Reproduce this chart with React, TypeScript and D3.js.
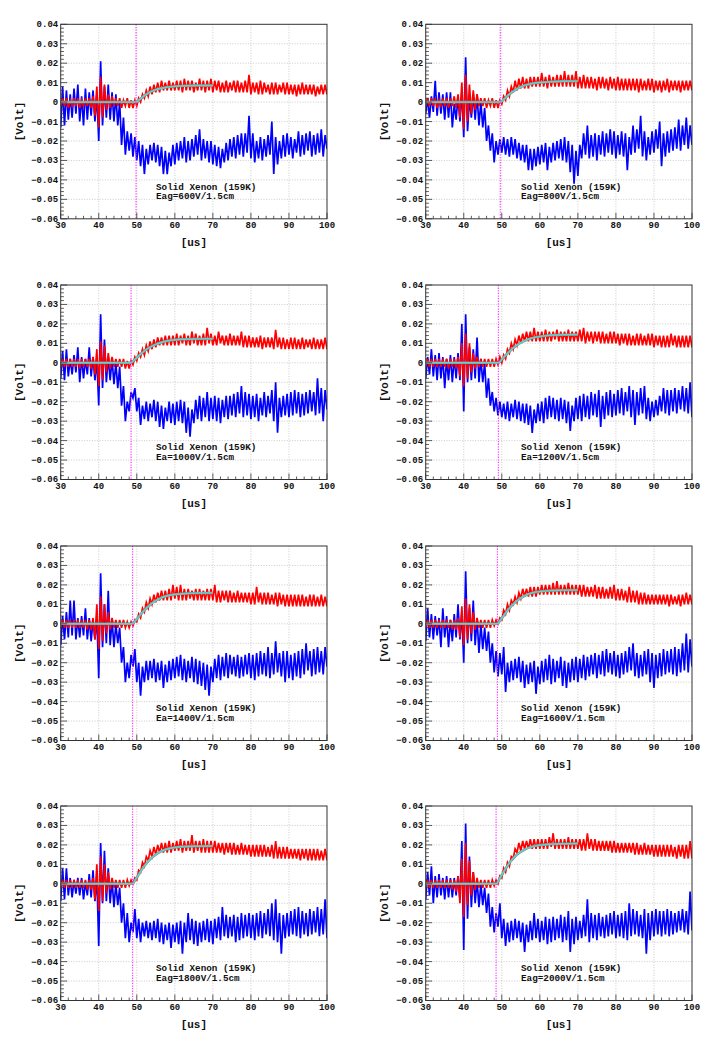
import React from "react";
import * as d3 from "d3";

// ---------- axes ----------
const xMin = 30;
const xMax = 100;
const yMin = -60; // mV
const yMax = 40; // mV
const xTicks = [30, 40, 50, 60, 70, 80, 90, 100];
const yTicks = [-60, -50, -40, -30, -20, -10, 0, 10, 20, 30, 40];
const yTickLabels = ["\u22120.06", "\u22120.05", "\u22120.04", "\u22120.03", "\u22120.02", "\u22120.01", "0", "0.01", "0.02", "0.03", "0.04"];
const binStart = 30; // 1 us bins, min/max per bin (mV)

const titleLine = "Solid Xenon (159K)";
const fieldLabels = [
  "Eag=600V/1.5cm", "Eag=800V/1.5cm", "Ea=1000V/1.5cm", "Ea=1200V/1.5cm",
  "Ea=1400V/1.5cm", "Eag=1600V/1.5cm", "Eag=1800V/1.5cm", "Eag=2000V/1.5cm",
];
const triggerTimes = [49.8, 49.6, 48.5, 49.1, 48.9, 48.85, 48.9, 48.5];

// ---------- 600 V ----------
const blueLo600 = [-13,-12,-9,-8,-6,-10,-12,-9,-7,-10, -20,-12,-8,-9,-10,-12,-22,-27,-25,-28, -30,-33,-37,-32,-30,-31,-33,-37,-37,-33, -32,-30,-29,-31,-30,-28,-27,-30,-29,-31, -32,-33,-34,-31,-30,-28,-29,-27,-28,-26, -29,-31,-29,-30,-28,-27,-37,-32,-29,-28, -27,-29,-26,-28,-27,-25,-28,-27,-26,-28, -24];
const blueHi600 = [8,6,4,7,9,3,7,5,6,4, 21,8,9,5,4,0,-8,-15,-16,-18, -20,-22,-24,-22,-21,-22,-23,-25,-26,-22, -21,-20,-18,-20,-19,-17,-14,-19,-20,-20, -22,-23,-24,-21,-19,-18,-17,-16,-16,-7, -16,-20,-18,-19,-17,-10,-18,-20,-17,-16, -18,-19,-15,-17,-16,-15,-17,-16,-14,-17, -15];
const redLo600 = [-2,-2,-3,-2,-2,-3,-2,-2,-3,-7, -13,-8,-4,-3,-2,-2,-3,-2,-3,-3, -2,0,2,3,4,5,5,6,6,6, 6,6,5,6,6,5,6,6,5,6, 5,6,5,5,5,6,5,5,5,5, 4,5,4,4,5,4,4,4,5,4, 4,4,3,4,4,4,4,3,4,4, 4];
const redHi600 = [2,2,1,2,2,1,2,2,3,8, 13,9,4,3,2,2,1,2,1,1, 2,4,6,8,9,10,11,10,11,10, 11,11,12,11,11,10,12,11,11,12, 11,11,10,11,10,11,11,10,11,14, 10,10,11,10,9,10,10,9,10,10, 9,9,9,10,9,9,9,8,9,9, 8];
const fit600 = [[30,0],[49.8,0],[50.5,0.9],[51,1.7],[52,3.3],[53,4.6],[54,5.6],[55,6.4],[56,7],[58,7.7],[60,8.1],[63,8.4],[66,8.5],[70,8.5]];

// ---------- 800 V ----------
const blueLo800 = [-6,-8,-5,-7,-6,-9,-8,-13,-9,-10, -18,-15,-8,-9,-12,-13,-20,-25,-31,-27, -26,-27,-28,-27,-29,-30,-31,-35,-35,-33, -32,-31,-35,-31,-30,-29,-30,-31,-36,-42, -38,-29,-27,-29,-28,-30,-27,-28,-26,-27, -29,-27,-28,-35,-27,-26,-24,-28,-30,-27, -26,-24,-33,-28,-26,-25,-24,-25,-22,-24, -22];
const blueHi800 = [2,3,11,5,4,5,5,-1,3,6, 23,2,4,4,0,-3,-12,-16,-20,-19, -18,-19,-18,-19,-21,-22,-22,-24,-24,-23, -22,-21,-23,-21,-20,-19,-18,-20,-22,-25, -22,-16,-12,-17,-16,-17,-15,-16,-14,-15, -17,-15,-16,-18,-12,-14,-7,-15,-18,-15, -14,-10,-16,-15,-14,-13,-9,-12,-8,-12, -16];
const redLo800 = [-2,-2,-2,-3,-2,-2,-3,-2,-3,-8, -14,-10,-6,-4,-2,-2,-3,-2,-3,-3, -1,1,3,5,6,7,7,7,8,8, 8,8,7,8,8,8,8,8,8,8, 7,7,7,7,7,6,7,7,6,7, 6,6,6,6,6,6,5,6,6,6, 5,6,5,6,5,6,6,5,6,6, 6];
const redHi800 = [2,2,2,1,2,2,2,3,4,10, 14,9,6,4,2,2,1,2,1,1, 3,6,8,11,12,13,12,13,13,13, 15,13,14,13,14,14,16,14,14,16, 13,14,13,13,12,13,13,12,13,12, 13,12,12,12,12,12,12,11,12,12, 11,11,11,12,11,11,11,11,11,11, 10];
const fit800 = [[30,0],[49.6,0],[50.3,1],[51,2.2],[52,4],[53,5.5],[54,6.8],[55,7.8],[56,8.6],[58,9.6],[60,10.1],[63,10.5],[66,10.7],[70,10.8]];

// ---------- 1000 V ----------
const blueLo1000 = [-8,-9,-7,-6,-5,-10,-8,-6,-7,-9, -22,-13,-10,-9,-11,-13,-22,-30,-25,-18, -25,-32,-29,-30,-28,-30,-33,-34,-30,-31, -32,-30,-31,-36,-38,-31,-29,-30,-28,-30, -29,-30,-31,-28,-29,-27,-28,-26,-28,-27, -29,-28,-30,-27,-28,-26,-30,-36,-28,-27, -28,-27,-26,-28,-27,-26,-25,-27,-26,-30, -24];
const blueHi1000 = [6,7,2,4,8,3,2,8,3,2, 25,12,3,2,0,-2,-12,-20,-15,-13, -18,-22,-20,-21,-19,-20,-22,-23,-20,-21, -20,-19,-20,-23,-24,-19,-17,-18,-15,-18, -17,-18,-19,-17,-17,-16,-15,-12,-15,-16, -17,-16,-18,-15,-17,-14,-10,-18,-17,-16, -15,-14,-15,-16,-15,-14,-15,-8,-13,-14, -12];
const redLo1000 = [-2,-2,-2,-2,-2,-3,-2,-2,-3,-6, -12,-9,-5,-3,-2,-2,-2,-3,-3,-1, 1,3,4,6,7,8,9,9,9,9, 9,9,10,9,9,10,9,9,9,10, 9,9,10,9,9,9,9,9,8,8, 8,8,8,7,8,8,7,8,7,7, 7,7,7,7,7,8,7,7,7,7, 7];
const redHi1000 = [2,2,2,2,2,2,2,2,3,7, 11,9,5,3,2,2,2,1,1,3, 5,7,9,11,12,13,13,14,14,14, 15,14,15,14,16,15,14,15,18,15, 14,16,14,14,15,14,14,16,14,14, 13,13,14,13,13,13,17,13,13,12, 13,13,12,13,12,12,13,12,12,13, 12];
const fit1000 = [[30,0],[48.5,0],[49.2,1.2],[50,2.6],[51,4.5],[52,6.1],[53,7.5],[54,8.6],[55,9.5],[57,10.8],[59,11.6],[62,12.1],[66,12.3],[70,12.4]];

// ---------- 1200 V ----------
const blueLo1200 = [-8,-6,-7,-9,-8,-13,-9,-10,-8,-9, -25,-10,-9,-8,-10,-10,-18,-22,-25,-27, -28,-29,-30,-28,-29,-30,-31,-32,-36,-31, -30,-31,-29,-28,-29,-30,-29,-31,-35,-30, -29,-30,-28,-29,-27,-28,-33,-29,-27,-28, -27,-26,-27,-25,-28,-32,-27,-26,-29,-30, -28,-27,-25,-26,-27,-25,-26,-24,-25,-26, -28];
const blueHi1200 = [3,7,4,5,3,2,4,3,5,20, 25,8,7,13,2,0,-8,-15,-18,-20, -21,-20,-21,-19,-20,-21,-21,-22,-24,-21, -20,-18,-17,-18,-19,-18,-19,-20,-22,-18, -17,-16,-17,-15,-16,-14,-17,-15,-14,-16, -14,-13,-15,-12,-14,-15,-13,-12,-18,-20, -19,-17,-13,-14,-14,-13,-14,-12,-13,-10, -15];
const redLo1200 = [-2,-2,-2,-2,-2,-2,-3,-2,-3,-7, -12,-8,-5,-3,-2,-2,-2,-2,-2,-1, 0,2,5,7,9,10,11,11,11,11, 11,11,11,11,12,11,11,11,11,11, 11,11,10,11,10,11,10,10,10,10, 10,9,10,9,9,9,9,9,9,9, 8,9,8,8,8,9,8,8,8,8, 8];
const redHi1200 = [2,2,2,2,2,2,2,2,3,10, 15,10,5,3,2,2,2,2,2,3, 4,7,10,12,14,15,16,16,18,16, 16,17,16,16,17,16,16,17,16,16, 17,18,16,16,16,16,16,15,16,16, 15,15,15,15,14,15,15,14,15,15, 14,14,14,14,15,14,14,14,14,14, 15];
const fit1200 = [[30,0],[49.2,0],[50,1.7],[51,3.8],[52,5.8],[53,7.6],[54,9.1],[55,10.3],[57,12.1],[59,13.2],[62,14.0],[66,14.4],[70,14.5]];

// ---------- 1400 V ----------
const blueLo1400 = [-11,-8,-7,-6,-8,-7,-6,-8,-9,-8, -28,-12,-10,-11,-12,-10,-20,-30,-28,-22, -30,-37,-30,-29,-28,-30,-29,-33,-30,-29, -28,-27,-29,-30,-28,-30,-31,-32,-34,-37, -30,-28,-29,-27,-28,-26,-27,-28,-27,-26, -28,-29,-27,-26,-27,-28,-26,-25,-27,-30, -28,-29,-27,-28,-26,-24,-27,-26,-25,-26, -22];
const blueHi1400 = [4,6,12,12,3,4,8,3,2,4, 26,10,17,2,0,-2,-12,-20,-16,-13, -20,-22,-19,-19,-18,-20,-19,-21,-19,-18, -17,-16,-18,-19,-17,-18,-19,-20,-21,-22, -18,-16,-17,-15,-16,-17,-16,-17,-16,-15, -16,-15,-14,-15,-12,-15,-9,-15,-14,-14, -16,-15,-14,-13,-10,-14,-13,-12,-14,-12, -16];
const redLo1400 = [-2,-2,-2,-2,-2,-2,-2,-3,-3,-8, -13,-9,-5,-3,-2,-2,-2,-2,-2,-1, 1,3,6,8,10,11,12,12,12,12, 13,12,12,12,13,12,12,12,12,12, 12,11,11,12,11,11,11,11,11,11, 10,10,11,10,10,10,10,9,10,9, 9,9,9,9,9,9,9,9,9,9, 9];
const redHi1400 = [2,2,2,2,2,2,2,2,3,10, 14,10,6,3,2,2,2,1,1,2, 5,8,11,13,15,16,17,17,18,20, 19,20,18,18,17,18,18,17,18,18, 20,17,17,17,17,16,17,16,16,16, 16,19,16,16,16,15,16,16,15,15, 15,15,15,15,14,15,15,14,15,14, 15];
const fit1400 = [[30,0],[48.9,0],[49.6,1.5],[50.5,3.6],[51.5,5.9],[52.5,8],[53.5,9.8],[54.5,11.3],[56,13],[58,14.4],[60,15.1],[63,15.6],[66,15.8],[70,15.9]];

// ---------- 1600 V ----------
const blueLo1600 = [-9,-7,-8,-6,-12,-7,-12,-9,-7,-8, -20,-10,-9,-11,-15,-13,-14,-20,-25,-27, -26,-35,-30,-29,-28,-30,-33,-31,-30,-36, -31,-30,-29,-31,-30,-28,-32,-33,-30,-29, -30,-28,-29,-27,-26,-28,-26,-27,-25,-26, -27,-28,-26,-25,-24,-27,-28,-27,-26,-30, -33,-28,-27,-26,-25,-26,-27,-25,-24,-25, -22];
const blueHi1600 = [8,5,4,3,8,4,2,5,10,6, 27,8,12,3,0,-2,-4,-10,-14,-15, -12,-20,-19,-18,-17,-19,-21,-20,-19,-22, -19,-18,-16,-18,-19,-17,-19,-20,-18,-17, -18,-16,-17,-16,-15,-16,-14,-13,-15,-14, -16,-15,-14,-12,-10,-15,-16,-14,-13,-15, -16,-15,-13,-14,-13,-12,-13,-10,-5,-8, -14];
const redLo1600 = [-2,-2,-2,-2,-2,-2,-2,-3,-3,-7, -11,-8,-5,-3,-2,-2,-2,-2,-1,0, 2,5,7,10,11,13,14,14,14,14, 15,15,15,15,15,15,15,15,15,15, 15,14,14,14,14,13,13,13,13,13, 12,12,12,11,11,11,10,10,10,10, 10,10,10,10,9,10,10,9,10,10, 10];
const redHi1600 = [2,2,2,2,2,2,2,2,3,9, 13,10,6,3,2,2,2,2,2,3, 7,10,12,14,16,18,18,19,19,19, 20,20,20,21,22,20,20,21,20,20, 20,20,19,19,20,19,19,18,19,20, 18,18,17,19,17,17,16,16,15,15, 15,15,15,15,15,14,15,15,16,15, 14];
const fit1600 = [[30,0],[48.9,0],[49.6,1.8],[50.5,4.2],[51.5,6.8],[52.5,9.1],[53.5,11],[54.5,12.6],[56,14.4],[58,15.9],[60,16.6],[63,17.1],[66,17.3],[70,17.4]];

// ---------- 1800 V ----------
const blueLo1800 = [-9,-8,-6,-7,-5,-6,-8,-6,-7,-9, -32,-10,-9,-10,-12,-11,-20,-28,-30,-25, -28,-30,-27,-28,-29,-28,-30,-31,-29,-33, -30,-31,-36,-30,-29,-31,-32,-30,-29,-30, -31,-28,-29,-27,-28,-27,-30,-29,-28,-27, -28,-29,-27,-28,-26,-27,-29,-30,-36,-28, -27,-26,-27,-28,-26,-27,-26,-25,-27,-26, -28];
const blueHi1800 = [8,8,3,2,3,3,1,5,7,4, 21,17,8,2,0,-2,-10,-15,-20,-13, -18,-20,-19,-20,-19,-18,-20,-21,-20,-21, -20,-19,-20,-15,-18,-19,-20,-19,-18,-19, -18,-17,-12,-16,-17,-16,-17,-15,-16,-15, -16,-15,-14,-15,-13,-10,-8,-15,-16,-15, -14,-13,-12,-14,-15,-13,-14,-12,-13,-8, -20];
const redLo1800 = [-2,-2,-2,-2,-2,-2,-2,-3,-3,-8, -14,-9,-5,-3,-2,-2,-2,-2,-1,0, 2,6,9,12,14,15,16,16,16,16, 17,17,16,17,17,16,17,16,16,16, 16,16,16,15,16,15,15,15,15,15, 14,14,14,14,14,14,13,13,13,13, 13,13,13,12,13,12,12,12,12,12, 12];
const redHi1800 = [2,2,2,2,2,2,2,2,3,10, 14,10,6,3,2,2,2,2,2,3, 7,11,14,17,19,20,21,21,22,21, 22,23,22,22,25,22,22,23,22,22, 22,21,21,21,21,21,20,21,20,20, 20,20,20,20,19,20,22,19,19,19, 18,18,18,18,18,18,18,18,17,18, 17];
const fit1800 = [[30,0],[48.9,0],[49.6,2],[50.5,4.8],[51.5,7.8],[52.5,10.4],[53.5,12.6],[54.5,14.3],[56,16.3],[58,17.9],[60,18.7],[63,19.2],[66,19.3],[70,19.4]];

// ---------- 2000 V ----------
const blueLo2000 = [-8,-6,-10,-7,-6,-8,-7,-7,-6,-8, -34,-18,-12,-10,-12,-11,-15,-22,-25,-22, -28,-32,-30,-29,-28,-30,-35,-30,-29,-28, -30,-29,-31,-30,-29,-28,-30,-29,-35,-31, -29,-28,-27,-30,-28,-29,-27,-28,-27,-26, -28,-27,-28,-29,-27,-26,-27,-28,-36,-29, -27,-26,-27,-26,-27,-26,-25,-24,-25,-26, -24];
const blueHi2000 = [6,9,4,5,3,4,3,3,4,22, 31,14,6,2,0,-2,-5,-12,-15,-10, -18,-20,-19,-18,-19,-20,-21,-19,-15,-18, -19,-17,-18,-17,-18,-16,-17,-14,-18,-17, -19,-16,-8,-15,-16,-15,-17,-16,-15,-14, -16,-15,-14,-10,-13,-14,-16,-13,-15,-14, -13,-14,-14,-13,-14,-15,-14,-13,-14,-4, -16];
const redLo2000 = [-2,-2,-2,-2,-2,-2,-2,-3,-4,-10, -17,-11,-6,-3,-2,-2,-2,-2,-1,0, 3,6,9,13,16,17,18,18,18,18, 18,18,18,19,18,18,18,18,18,18, 18,17,17,18,17,17,17,17,17,16, 16,16,16,16,16,15,15,15,15,15, 14,14,14,14,14,14,13,14,13,13, 13];
const redHi2000 = [2,2,2,2,2,2,2,2,4,13, 21,12,6,3,2,2,2,2,2,4, 8,11,14,18,21,22,22,23,23,23, 23,23,24,26,23,23,23,24,23,23, 23,23,26,23,23,22,22,22,22,22, 21,21,21,21,21,21,20,21,20,20, 20,20,20,20,20,19,20,20,20,22, 17];
const fit2000 = [[30,0],[48.6,0],[49.3,2.2],[50.2,5.2],[51.2,8.4],[52.2,11.2],[53.2,13.5],[54.2,15.3],[56,17.6],[58,19.1],[60,19.9],[63,20.4],[66,20.6],[70,20.7]];

const panels = [
  { blueLo: blueLo600, blueHi: blueHi600, redLo: redLo600, redHi: redHi600, fit: fit600 },
  { blueLo: blueLo800, blueHi: blueHi800, redLo: redLo800, redHi: redHi800, fit: fit800 },
  { blueLo: blueLo1000, blueHi: blueHi1000, redLo: redLo1000, redHi: redHi1000, fit: fit1000 },
  { blueLo: blueLo1200, blueHi: blueHi1200, redLo: redLo1200, redHi: redHi1200, fit: fit1200 },
  { blueLo: blueLo1400, blueHi: blueHi1400, redLo: redLo1400, redHi: redHi1400, fit: fit1400 },
  { blueLo: blueLo1600, blueHi: blueHi1600, redLo: redLo1600, redHi: redHi1600, fit: fit1600 },
  { blueLo: blueLo1800, blueHi: blueHi1800, redLo: redLo1800, redHi: redHi1800, fit: fit1800 },
  { blueLo: blueLo2000, blueHi: blueHi2000, redLo: redLo2000, redHi: redHi2000, fit: fit2000 },
];

// ---------- layout ----------
const colLeft = [60.7, 425.7];
const rowTop = [24.3, 285, 546, 806];
const plotW = 266.3;
const plotH = 194.5;
const FONT = "'Liberation Mono', 'DejaVu Sans Mono', monospace";

type Pt = [number, number];

function zigzag(lo: number[], hi: number[]): Pt[] {
  const pts: Pt[] = [];
  lo.forEach((v, i) => {
    pts.push([binStart + i, v]);
    pts.push([binStart + i + 0.5, hi[i]]);
  });
  return pts;
}

function Panel({ idx }: { idx: number }) {
  const p = panels[idx];
  const left = colLeft[idx % 2];
  const top = rowTop[Math.floor(idx / 2)];
  const x = d3.scaleLinear().domain([xMin, xMax]).range([left, left + plotW]);
  const y = d3.scaleLinear().domain([yMin, yMax]).range([top + plotH, top]);
  const line = d3.line<Pt>().x((d) => x(d[0])).y((d) => y(d[1]));
  const fitLine = d3.line<Pt>().x((d) => x(d[0])).y((d) => y(d[1])).curve(d3.curveMonotoneX);
  const clipId = `clip-${idx}`;
  const minorX = d3.range(xMin, xMax + 0.001, 2);
  const minorY = d3.range(yMin, yMax + 0.001, 2);
  const bottom = top + plotH;
  const fitD = fitLine(p.fit as Pt[]) || "";
  return (
    <g>
      <defs>
        <clipPath id={clipId}>
          <rect x={left} y={top} width={plotW} height={plotH} />
        </clipPath>
      </defs>
      <rect x={left} y={top} width={plotW} height={plotH} fill="#fff" />
      {/* grid */}
      <g stroke="#b4b4b4" strokeWidth={0.7} strokeDasharray="1,1.6">
        {xTicks.slice(1, -1).map((t) => (
          <line key={"gx" + t} x1={x(t)} x2={x(t)} y1={top} y2={bottom} />
        ))}
        {yTicks.slice(1, -1).map((t) => (
          <line key={"gy" + t} x1={left} x2={left + plotW} y1={y(t)} y2={y(t)} />
        ))}
      </g>
      <g clipPath={`url(#${clipId})`} fill="none" strokeLinejoin="miter">
        <path d={line(zigzag(p.blueLo, p.blueHi)) || ""} stroke="#0000ff" strokeWidth={1.7} />
        <path d={line(zigzag(p.redLo, p.redHi)) || ""} stroke="#ff0000" strokeWidth={1.7} />
        <path d={fitD} stroke="#8c8c8c" strokeWidth={2.5} strokeLinejoin="round" />
        <path d={fitD} stroke="#5ad6d0" strokeWidth={1.4} strokeLinejoin="round" />
      </g>
      {/* trigger line */}
      <line
        x1={x(triggerTimes[idx])}
        x2={x(triggerTimes[idx])}
        y1={top}
        y2={bottom}
        stroke="#ff33ff"
        strokeWidth={1.1}
        strokeDasharray="1.3,1.3"
      />
      {/* frame */}
      <rect x={left} y={top} width={plotW} height={plotH} fill="none" stroke="#333" strokeWidth={1} />
      {/* ticks */}
      <g stroke="#333" strokeWidth={0.8}>
        {minorX.map((t) => {
          const major = xTicks.includes(t);
          return <line key={"tx" + t} x1={x(t)} x2={x(t)} y1={bottom} y2={bottom - (major ? 6 : 3)} />;
        })}
        {minorY.map((t) => {
          const major = yTicks.includes(t);
          return <line key={"ty" + t} x1={left} x2={left + (major ? 6.5 : 3.2)} y1={y(t)} y2={y(t)} />;
        })}
      </g>
      {/* tick labels */}
      <g fontFamily={FONT} fontWeight="bold" fontSize={9} fill="#111">
        {yTicks.map((t, i) => (
          <text key={"ly" + t} x={left - 2.5} y={y(t)} dy="0.33em" textAnchor="end">
            {yTickLabels[i]}
          </text>
        ))}
        {xTicks.map((t) => (
          <text key={"lx" + t} x={x(t)} y={bottom + 9.5} textAnchor="middle">
            {t}
          </text>
        ))}
      </g>
      {/* axis titles */}
      <text x={left + plotW / 2} y={bottom + 27} textAnchor="middle" fontFamily={FONT} fontWeight="bold" fontSize={11} fill="#111">
        [us]
      </text>
      <text
        transform={`translate(${left - 38},${top + plotH / 2}) rotate(-90)`}
        textAnchor="middle"
        fontFamily={FONT}
        fontWeight="bold"
        fontSize={11}
        fill="#111"
      >
        [Volt]
      </text>
      {/* annotation */}
      <g fontFamily={FONT} fontSize={9.3} fill="#111" fontWeight="bold">
        <text x={left + 95.3} y={top + 165.4}>{titleLine}</text>
        <text x={left + 95.3} y={top + 174.7}>{fieldLabels[idx]}</text>
      </g>
    </g>
  );
}

export default function App() {
  return (
    <svg
      width={720}
      height={1041}
      viewBox="0 0 720 1041"
      style={{ position: "absolute", left: 0, top: 0, background: "#fff" }}
    >
      <rect x={0} y={0} width={720} height={1041} fill="#fff" />
      {panels.map((_, i) => (
        <Panel key={i} idx={i} />
      ))}
    </svg>
  );
}
